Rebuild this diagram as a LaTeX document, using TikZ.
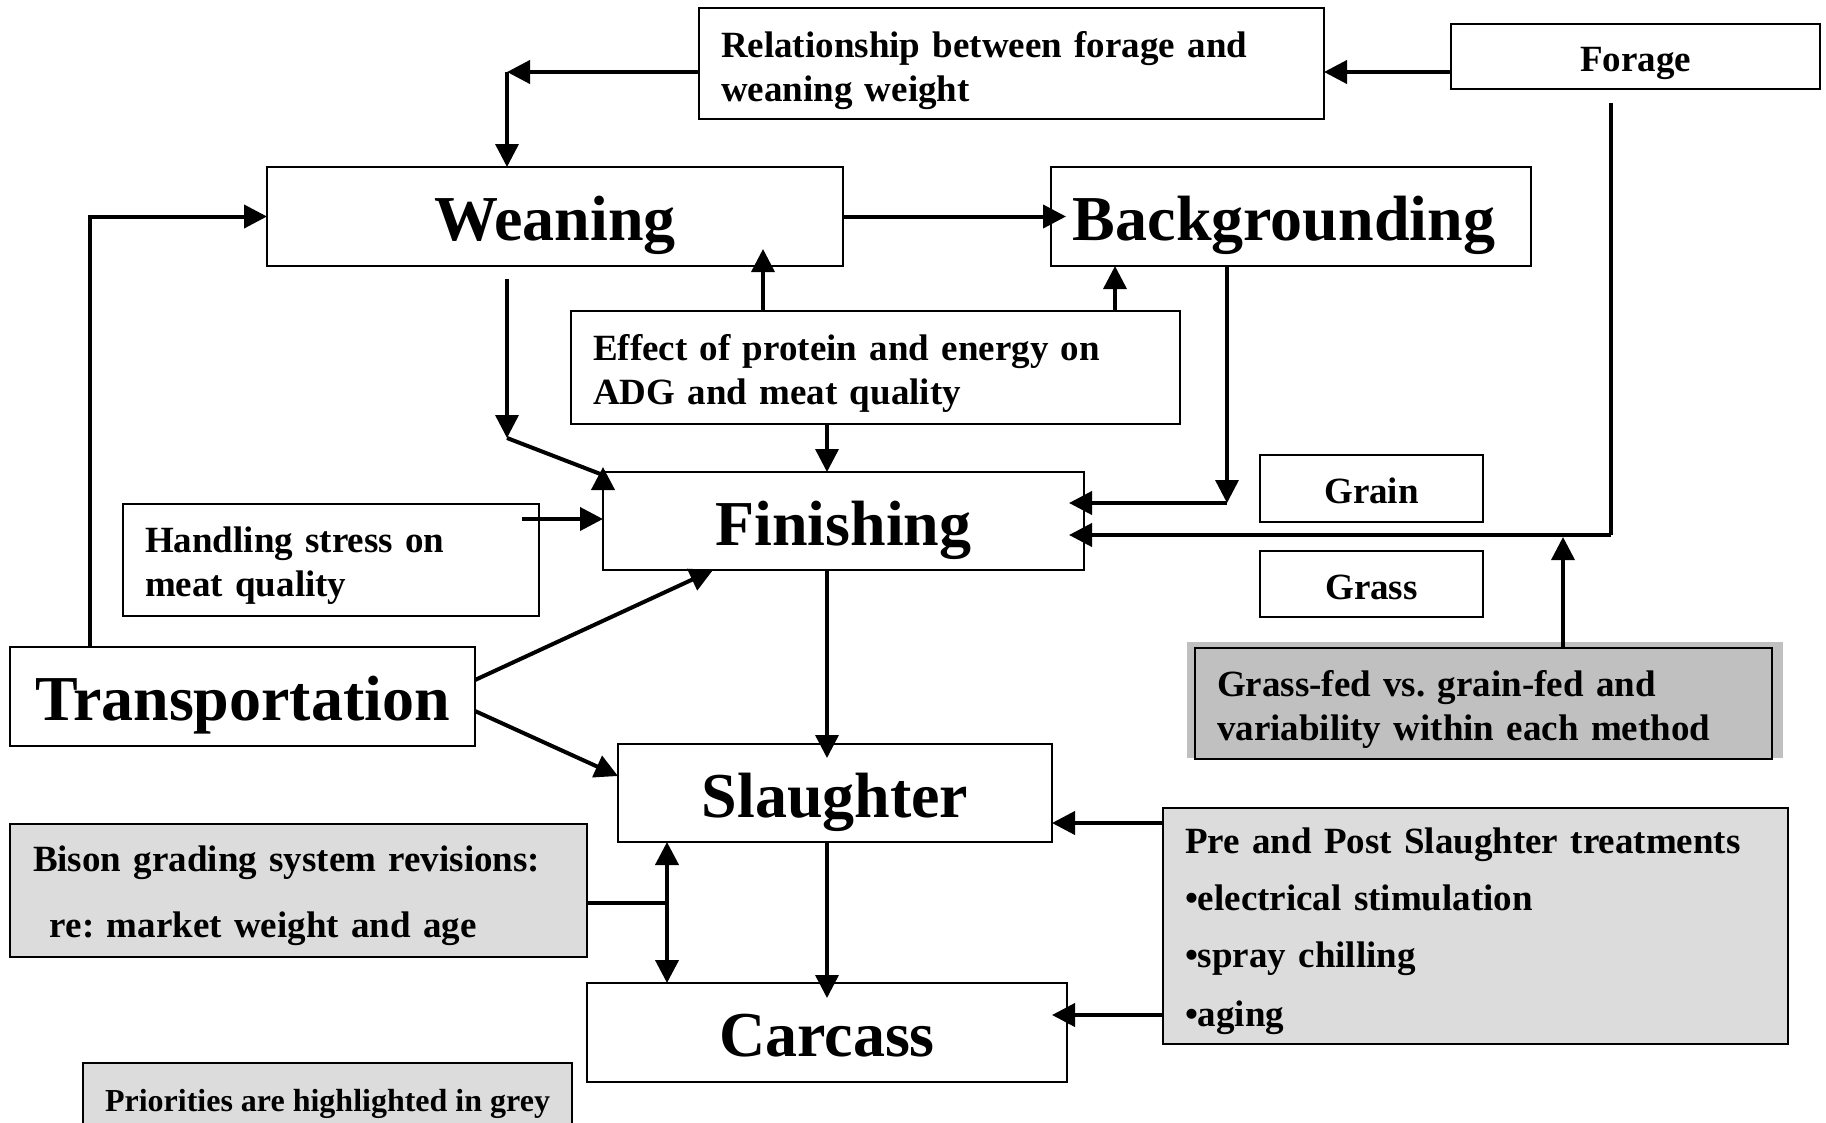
\documentclass[tikz,border=0pt]{standalone}
\usepackage{fontspec}
\setmainfont{Liberation Serif}
% same face with slightly narrower word spaces, for the boxed notes
\newfontfamily\notefont{Liberation Serif}[WordSpace=0.79]
\usetikzlibrary{arrows.meta,calc}
\definecolor{priofill}{HTML}{DCDCDC}
\definecolor{keyfill}{HTML}{C0C0C0}
% raises the first line of a multi-line box so the block sits centred
\newcommand\tallstrut{\rule{0pt}{37pt}}
\frenchspacing
\begin{document}
\begin{tikzpicture}[x=1pt,y=-1pt,
  >={Triangle[length=23pt,width=23pt]},
  box/.style={draw, line width=2pt, fill=white, inner sep=0pt, outer sep=0pt},
  big/.style={box, font=\bfseries\fontsize{64}{70}\selectfont, text height=48pt, text depth=0pt},
  tag/.style={box, font=\bfseries\fontsize{37}{44}\selectfont, text height=30pt, text depth=0pt},
  note/.style={box, font=\notefont\bfseries\fontsize{37}{44}\selectfont, align=left},
  prio/.style={fill=priofill},
  conn/.style={line width=4pt, ->},
  vconn/.style={line width=3.5pt, ->},
  link/.style={line width=4pt},
  vlink/.style={line width=3.5pt}]

\useasboundingbox (0,0) rectangle (1826,1122);
\fill[white] (0,0) rectangle (1826,1122);

% ---- boxes ----
\node[note, text width=581pt, minimum width=625pt, minimum height=111pt] (rel) at (1011.5,63.5)
  {\rule{0pt}{41pt}Relationship between forage and\\weaning weight};
\node[tag, minimum width=369pt, minimum height=65pt] (forage) at (1635.5,56.5) {Forage};

\node[big, minimum width=576pt, minimum height=99pt] (wean) at (555,216.5) {Weaning};
\node[big, minimum width=480pt, minimum height=99pt] (back) at (1291,216.5) {\hspace*{-14pt}Backgrounding};

\node[note, text width=565pt, minimum width=609pt, minimum height=113pt] (effect) at (875.5,367.5)
  {\tallstrut Effect of protein and energy on\\ADG and meat quality};

\node[big, minimum width=481pt, minimum height=98pt] (fin) at (843.5,521) {Finishing};
\node[tag, minimum width=223pt, minimum height=67pt] (grain) at (1371.5,488.5) {Grain};
\node[tag, minimum width=223pt, minimum height=66pt] (grass) at (1371.5,584) {Grass};

\node[note, text width=372pt, minimum width=416pt, minimum height=112pt] (handle) at (331,560)
  {\tallstrut Handling stress on\\meat quality};

\node[big, minimum width=465pt, minimum height=99pt] (trans) at (242.5,696.5) {Transportation};

\fill[keyfill] (1187,642) rectangle (1783,758);
\node[note, fill=keyfill, text width=533pt, minimum width=577pt, minimum height=111pt] (gfed) at (1483.5,703.5)
  {\tallstrut Grass-fed vs. grain-fed and\\variability within each method};

\node[big, minimum width=434pt, minimum height=98pt] (slau) at (835,793) {Slaughter};

\node[note, prio, text width=581pt, minimum width=625pt, minimum height=236pt,
      font=\notefont\bfseries\fontsize{37}{57}\selectfont] (pre) at (1475.5,926)
  {\tallstrut Pre and Post Slaughter treatments\\\textbullet electrical stimulation\\\textbullet spray chilling\\[2pt]\textbullet aging};

\node[note, prio, text width=531pt, minimum width=577pt, minimum height=133pt,
      font=\notefont\bfseries\fontsize{37}{66}\selectfont] (bison) at (298.5,890.5)
  {\tallstrut Bison grading system revisions:\\\hspace*{17pt}re: market weight and age};

\node[big, minimum width=480pt, minimum height=99pt] (carc) at (827,1032.5) {Carcass};

\node[box, prio, font=\bfseries\fontsize{32}{38}\selectfont, text height=21pt, text depth=0pt,
      minimum width=489pt, minimum height=76pt] (prionote) at (327.5,1101) {Priorities are highlighted in grey};

% ---- junction points ----
\coordinate (jrw) at (507,72);
\coordinate (jwf) at (507,438);
\coordinate (jbf) at (1227,503);
\coordinate (jff) at (1611,535);
\coordinate (jgf) at (1563,537);
\coordinate (jbs) at (667,903);

% ---- connectors ----
\draw[conn] (forage.west |- jrw) -- (rel.east |- jrw);
\draw[conn] (rel.west |- jrw) -- (jrw);
\draw[vconn] (jrw) -- (wean.north -| jrw);

\draw[conn] ($(trans.north west)+(80,0)$) |- (wean.west);
\draw[conn, shorten >=-15pt] (wean.east) -- (back.west);

\draw[vconn] ($(wean.south -| jwf)+(0,13)$) -- (jwf);
\draw[conn] (jwf) -- ($(fin.north west)+(0,3)$) -- ($(fin.north west)+(0,-5)$);

\draw[vconn, shorten >=-17pt] (effect.north -| 763,0) -- (wean.south -| 763,0);
\draw[vconn] (effect.north -| 1115,0) -- (back.south -| 1115,0);
\draw[vconn] (effect.south -| 827,0) -- (fin.north -| 827,0);

\draw[vconn] (back.south -| jbf) -- (jbf);
\draw[conn, shorten >=-15pt] (jbf) -- (fin.east |- jbf);

\draw[vlink] ($(forage.south -| jff)+(0,14)$) -- (jff);
\draw[conn, shorten >=-15pt] (jff) -- (fin.east |- jff);
\draw[vconn] (gfed.north -| jgf) -- (jgf);

\draw[conn] ($(handle.east |- 0,519)+(-17,0)$) -- (fin.west |- 0,519);

\draw[conn] (trans.east |- 0,680) -- (fin.south -| 713,0);
\draw[conn] (trans.east |- 0,711) -- (slau.west |- 0,776);

\draw[vconn, shorten >=-14pt] (fin.south -| 827,0) -- (slau.north -| 827,0);
\draw[vconn, shorten >=-15pt] (slau.south -| 827,0) -- (carc.north -| 827,0);

\draw[link] (bison.east |- jbs) -- (jbs);
\draw[line width=4pt, <->] (slau.south -| jbs) -- (carc.north -| jbs);

\draw[conn] (pre.west |- 0,823) -- (slau.east |- 0,823);
\draw[conn, shorten >=-15pt] (pre.west |- 0,1015) -- (carc.east |- 0,1015);
\end{tikzpicture}
\end{document}
